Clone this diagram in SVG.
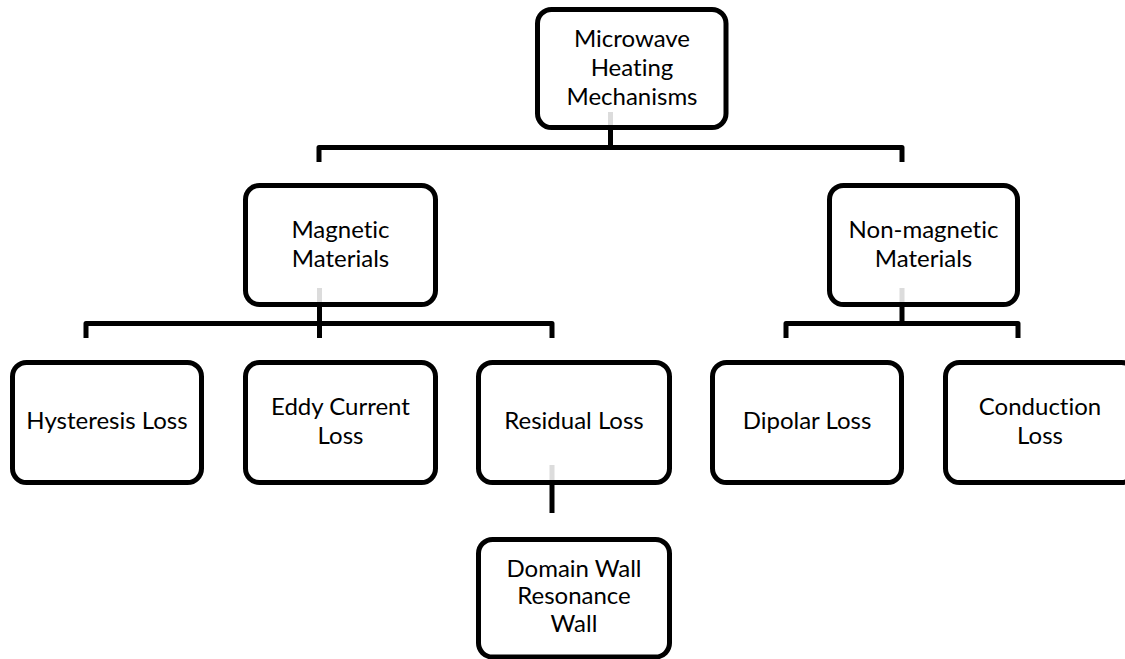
<svg xmlns="http://www.w3.org/2000/svg" width="1125" height="659" viewBox="0 0 1125 659">
<style>
.box{fill:#fff;stroke:#000;stroke-width:5}
.t{font-family:Lato,"Liberation Sans",Arial,sans-serif;font-size:24px;fill:#000;text-anchor:middle;font-variant-ligatures:none}
.c{fill:none;stroke:#000;stroke-width:5;stroke-linejoin:round}
.g{fill:none;stroke:#dcdcdc;stroke-width:5}
</style>
<rect width="1125" height="659" fill="#fff"/>
<g id="n-root"><rect class="box" x="537.5" y="9.5" width="188.5" height="118" rx="14"/><text class="t" x="632" y="47">Microwave</text><text class="t" x="632" y="76">Heating</text><text class="t" x="632" y="105">Mechanisms</text></g>
<g id="n-magnetic"><rect class="box" x="245.5" y="185.5" width="190" height="119" rx="14"/><text class="t" x="340.5" y="238">Magnetic</text><text class="t" x="340.5" y="267">Materials</text></g>
<g id="n-nonmagnetic"><rect class="box" x="829.5" y="185.5" width="188" height="119" rx="14"/><text class="t" x="923.5" y="238">Non-magnetic</text><text class="t" x="923.5" y="267">Materials</text></g>
<g id="n-hysteresis"><rect class="box" x="12.5" y="362.5" width="189" height="120" rx="14"/><text class="t" x="107" y="429">Hysteresis Loss</text></g>
<g id="n-eddy"><rect class="box" x="245.5" y="362.5" width="190" height="120" rx="14"/><text class="t" x="340.5" y="415">Eddy Current</text><text class="t" x="340.5" y="444">Loss</text></g>
<g id="n-residual"><rect class="box" x="478.5" y="362.5" width="191" height="120" rx="14"/><text class="t" x="574" y="429">Residual Loss</text></g>
<g id="n-dipolar"><rect class="box" x="712.5" y="362.5" width="189" height="120" rx="14"/><text class="t" x="807" y="429">Dipolar Loss</text></g>
<g id="n-conduction"><rect class="box" x="945.5" y="362.5" width="190" height="120" rx="14"/><text class="t" x="1040" y="415">Conduction</text><text class="t" x="1040" y="444">Loss</text></g>
<g id="n-domain"><rect class="box" x="478.5" y="539.5" width="191" height="117.5" rx="14"/><text class="t" x="574" y="577">Domain Wall</text><text class="t" x="574" y="604">Resonance</text><text class="t" x="574" y="632">Wall</text></g>
<g id="connectors">
<path class="g" d="M610.5,112V125M319.5,288V302M902,288V302M552,465V480"/>
<path class="c" d="M610.5,128V147.5M319,162V147.5H902V162"/>
<path class="c" d="M319.5,305V338M86,338V323.5H552V338"/>
<path class="c" d="M902,305V323.5M786,338V323.5H1018V338"/>
<path class="c" d="M552,481V513"/>
</g>
</svg>
